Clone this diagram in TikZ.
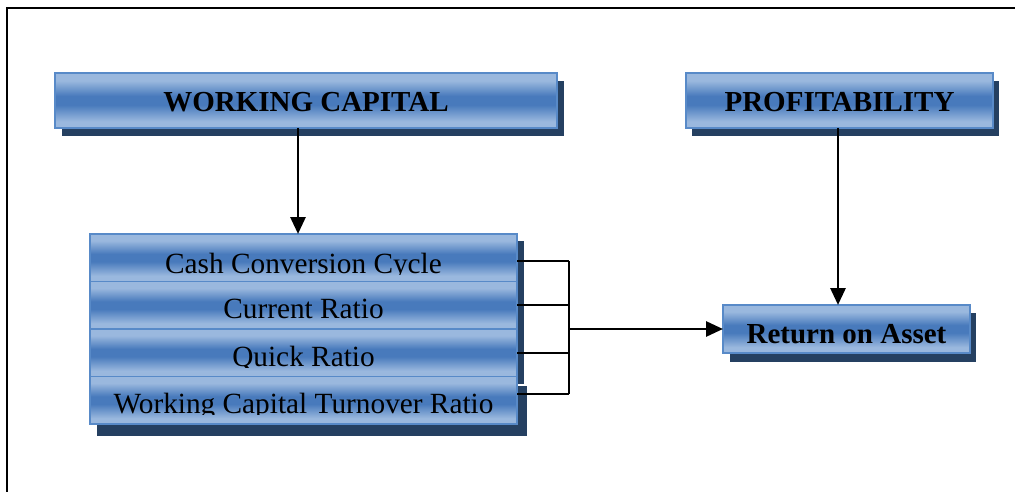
\documentclass[tikz,border=0pt]{standalone}
\usepackage{fontspec}
\setmainfont{Liberation Serif}
\usetikzlibrary{arrows.meta,backgrounds,calc}

\definecolor{barlight}{RGB}{154,184,222}
\definecolor{bardark}{RGB}{72,122,188}
\definecolor{barrim}{RGB}{88,138,200}
\definecolor{barshadow}{RGB}{37,64,97}

% glossy bar: light at top and bottom, deep blue band in the middle
\pgfdeclareverticalshading{barshade}{100bp}{%
  color(0bp)=(barlight); color(25bp)=(barlight); color(31bp)=(barlight);
  color(46bp)=(bardark); color(54bp)=(bardark); color(68bp)=(barlight);
  color(75bp)=(barlight); color(100bp)=(barlight)}

\tikzset{
  bar/.style={draw=barrim, line width=1.6pt, shading=barshade, inner sep=0pt, outer sep=0pt},
  headfont/.style={font=\fontsize{29}{34}\selectfont\bfseries},
  rowfont/.style={font=\fontsize{29.3}{34}\selectfont},
  link/.style={line width=2pt},
  feed/.style={line width=2.9pt, -{Triangle[length=17pt,width=15pt]}},
  frameline/.style={line width=2pt},
}

% label set on a fixed baseline below the top of its bar (y grows downwards),
% with everything under the cut line (#4 below the top) hidden
\newcommand\barlabel[6]{%
  \begin{scope}
    \path (#2.north west) coordinate (#1-nw) (#2.north east) coordinate (#1-ne);
    \clip ($(#1-nw)+(0,-1)$) rectangle ($(#1-ne)+(0,#4)$);
    \node[anchor=base, inner sep=0pt, #5] (#1) at ($(#2.north)+(0,#3)$) {#6};
  \end{scope}}

\begin{document}
\begin{tikzpicture}[x=1pt, y=-1pt]
\useasboundingbox (0,0) rectangle (1015,492);

% page frame
\draw[frameline] (7,492) -- (7,8) -- (1015,8);

% bars
\node[bar, minimum width=502pt, minimum height=55pt] (wc)   at (306,100.5) {};
\node[bar, minimum width=307pt, minimum height=55pt] (prof) at (839.5,100.5) {};
\node[bar, minimum width=427pt, minimum height=47.5pt] (r1) at (303.5,257.75) {};
\node[bar, minimum width=427pt, minimum height=47.5pt] (r2) at (303.5,305.25) {};
\node[bar, minimum width=427pt, minimum height=47.5pt] (r3) at (303.5,352.75) {};
\node[bar, minimum width=427pt, minimum height=47.5pt] (r4) at (303.5,400.25) {};
\node[bar, minimum width=247pt, minimum height=48pt] (roa) at (846.5,329) {};

% drop shadows
\begin{pgfonlayer}{background}
  \fill[barshadow] ([shift={(7pt,-8pt)}]wc.north west) rectangle ([shift={(7pt,-8pt)}]wc.south east);
  \fill[barshadow] ([shift={(6pt,-8pt)}]prof.north west) rectangle ([shift={(6pt,-8pt)}]prof.south east);
  \fill[barshadow] ([shift={(7pt,-7pt)}]r1.north west) rectangle ([shift={(7pt,-7pt)}]r3.south east);
  \fill[barshadow] ([shift={(7pt,-9pt)}]r4.north west) rectangle ([shift={(10pt,-12pt)}]r4.south east);
  \fill[barshadow] ([shift={(7pt,-8pt)}]roa.north west) rectangle ([shift={(6pt,-9pt)}]roa.south east);
\end{pgfonlayer}

% labels: name, bar, baseline depth, cut depth, font, text
\barlabel{wc-t}{wc}{39}{50}{headfont}{WORKING CAPITAL}
\barlabel{prof-t}{prof}{39}{50}{headfont}{PROFITABILITY}
\barlabel{r1-t}{r1}{39}{40}{rowfont}{Cash Conversion Cycle}
\barlabel{r2-t}{r2}{37}{38}{rowfont}{Current Ratio}
\barlabel{r3-t}{r3}{37.5}{38.3}{rowfont}{Quick Ratio}
\barlabel{r4-t}{r4}{36.5}{37.5}{rowfont}{Working Capital Turnover Ratio}
\barlabel{roa-t}{roa}{38}{38.8}{headfont}{Return on Asset}

% connectors
\coordinate (bus) at (569,328);
\draw[link] ([yshift=-3pt]r1.east) -- ([yshift=-3pt]r1.east -| bus);
\draw[link] (r2.east) -- (r2.east -| bus);
\draw[link] (r3.east) -- (r3.east -| bus);
\draw[link] ([yshift=6pt]r4.east) -- ([yshift=6pt]r4.east -| bus);
\draw[link] ([yshift=-3pt]r1.east -| bus) -- ([yshift=6pt]r4.east -| bus);
\draw[feed] (roa.west -| bus) -- (roa.west);

\draw[feed] ([xshift=-8pt]wc.south) -- ([xshift=-8pt]wc.south |- r1.north);
\draw[feed] ([xshift=-1.5pt]prof.south) -- ([xshift=-1.5pt]prof.south |- roa.north);
\end{tikzpicture}
\end{document}
